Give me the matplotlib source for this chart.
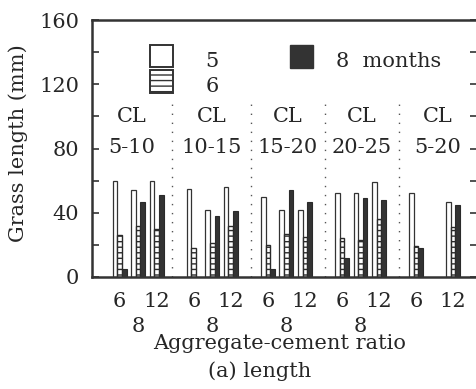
import numpy as np
import matplotlib
matplotlib.use("Agg")
import matplotlib.pyplot as plt
from matplotlib.patches import Rectangle

# ---- data ----
groups = ["CL\n5-10", "CL\n10-15", "CL\n15-20", "CL\n20-25", "CL\n5-20"]
ratios = ["6", "8", "12"]
# values per group, per ratio (6, 8, 12); NaN = not tested
len_5m = [[60, 54, 60], [55, 42, 56], [50, 42, 42], [52, 52, 59], [52, np.nan, 47]]
len_6m = [[26, 32, 30], [18, 21, 32], [20, 27, 25], [24, 23, 36], [19, np.nan, 31]]
len_8m = [[5, 47, 51], [np.nan, 38, 41], [5, 54, 47], [12, 49, 48], [18, np.nan, 45]]
series_labels = ["5", "6", "8  months"]
yticks_major = [0, 40, 80, 120, 160]
yticks_minor = [20, 60, 100, 140]

# ---- style ----
plt.rcParams['font.family'] = ['DejaVu Serif']
TXT = '#262626'
FS = 15
plt.rcParams['hatch.color'] = '#2a2a2a'
plt.rcParams['hatch.linewidth'] = 1.0

fig = plt.figure(figsize=(4.76, 3.89), dpi=100)
ax = fig.add_axes([91.5 / 476, 1 - 277 / 389, (477 - 91.5) / 476, 257 / 389])

bw = 0.25
pos = []
for g in range(len(groups)):
    for i in range(len(ratios)):
        pos.append(4 * g + i)
pos = np.array(pos, dtype=float)
v5 = np.array(len_5m, dtype=float).ravel()
v6 = np.array(len_6m, dtype=float).ravel()
v8 = np.array(len_8m, dtype=float).ravel()

ax.bar(pos - bw, v5, bw, color='white', edgecolor='#333333', linewidth=0.9)
ax.bar(pos, v6, bw, color='white', edgecolor='#2a2a2a', linewidth=1.0, hatch='---')
ax.bar(pos + bw, v8, bw, color='#333333', edgecolor='#2a2a2a', linewidth=0.8)

ax.set_xlim(-1.52, 19.29)
ax.set_ylim(0, 160)

# group dividers
dividers = [2.85, 7.08, 11.08, 15.07]
for d in dividers:
    ax.plot([d, d], [0, 112], color='#555555', lw=1.0, ls=(0, (1, 5.5)))

# group labels, centred in each segment
edges = [ax.get_xlim()[0]] + dividers + [ax.get_xlim()[1]]
for g, lab in enumerate(groups):
    cx = (edges[g] + edges[g + 1]) / 2
    top, bot = lab.split("\n")
    ax.text(cx, 96.3, top, ha='center', va='baseline', fontsize=FS, color=TXT)
    ax.text(cx, 77.5, bot, ha='center', va='baseline', fontsize=FS, color=TXT)

# x tick labels: 6 and 12 on first row, 8 on second row
maj_pos, maj_lab, min_pos, min_lab = [], [], [], []
for k, p in enumerate(pos):
    i = k % 3
    if np.isnan(v5[k]):
        continue
    if i == 1:
        min_pos.append(p); min_lab.append(ratios[i])
    else:
        maj_pos.append(p); maj_lab.append(ratios[i])
ax.set_xticks(maj_pos, maj_lab)
ax.set_xticks(min_pos, min_lab, minor=True)
ax.tick_params(axis='x', which='major', length=0, pad=10.8, labelsize=FS, labelcolor=TXT)
ax.tick_params(axis='x', which='minor', length=0, pad=28.5, labelsize=FS, labelcolor=TXT)

ax.set_yticks(yticks_major, [str(v) for v in yticks_major])
ax.set_yticks(yticks_minor, minor=True)
ax.tick_params(axis='y', which='both', direction='in', length=5, width=1.2,
               color='#333333', right=True, pad=9, labelsize=FS, labelcolor=TXT)

for s in ax.spines.values():
    s.set_linewidth(1.8)
    s.set_color('#333333')

# legend
ax.add_patch(Rectangle((0.1518, 0.818), 0.0589, 0.0844, transform=ax.transAxes,
                       facecolor='white', edgecolor='#333333', lw=1.4, clip_on=False))
ax.add_patch(Rectangle((0.1518, 0.717), 0.0589, 0.0883, transform=ax.transAxes,
                       facecolor='white', edgecolor='#333333', lw=1.4, hatch='---', clip_on=False))
ax.add_patch(Rectangle((0.515, 0.813), 0.0597, 0.0895, transform=ax.transAxes,
                       facecolor='#333333', edgecolor='#333333', lw=1.0, clip_on=False))
ax.text(0.3126, 0.819, series_labels[0], transform=ax.transAxes, ha='center', va='baseline',
        fontsize=FS, color=TXT)
ax.text(0.3126, 0.721, series_labels[1], transform=ax.transAxes, ha='center', va='baseline',
        fontsize=FS, color=TXT)
ax.text(0.634, 0.819, series_labels[2], transform=ax.transAxes, ha='left', va='baseline',
        fontsize=FS, color=TXT)

fig.text(18 / 476, 1 - 143 / 389, "Grass length (mm)", rotation=90, ha='center', va='center',
         fontsize=FS, color=TXT)
fig.text(280 / 476, 1 - 349 / 389, "Aggregate-cement ratio", ha='center', va='baseline',
         fontsize=FS, color=TXT)
fig.text(260 / 476, 1 - 377 / 389, "(a) length", ha='center', va='baseline',
         fontsize=FS, color=TXT)

fig.savefig("out.png", dpi=100, facecolor='white')
